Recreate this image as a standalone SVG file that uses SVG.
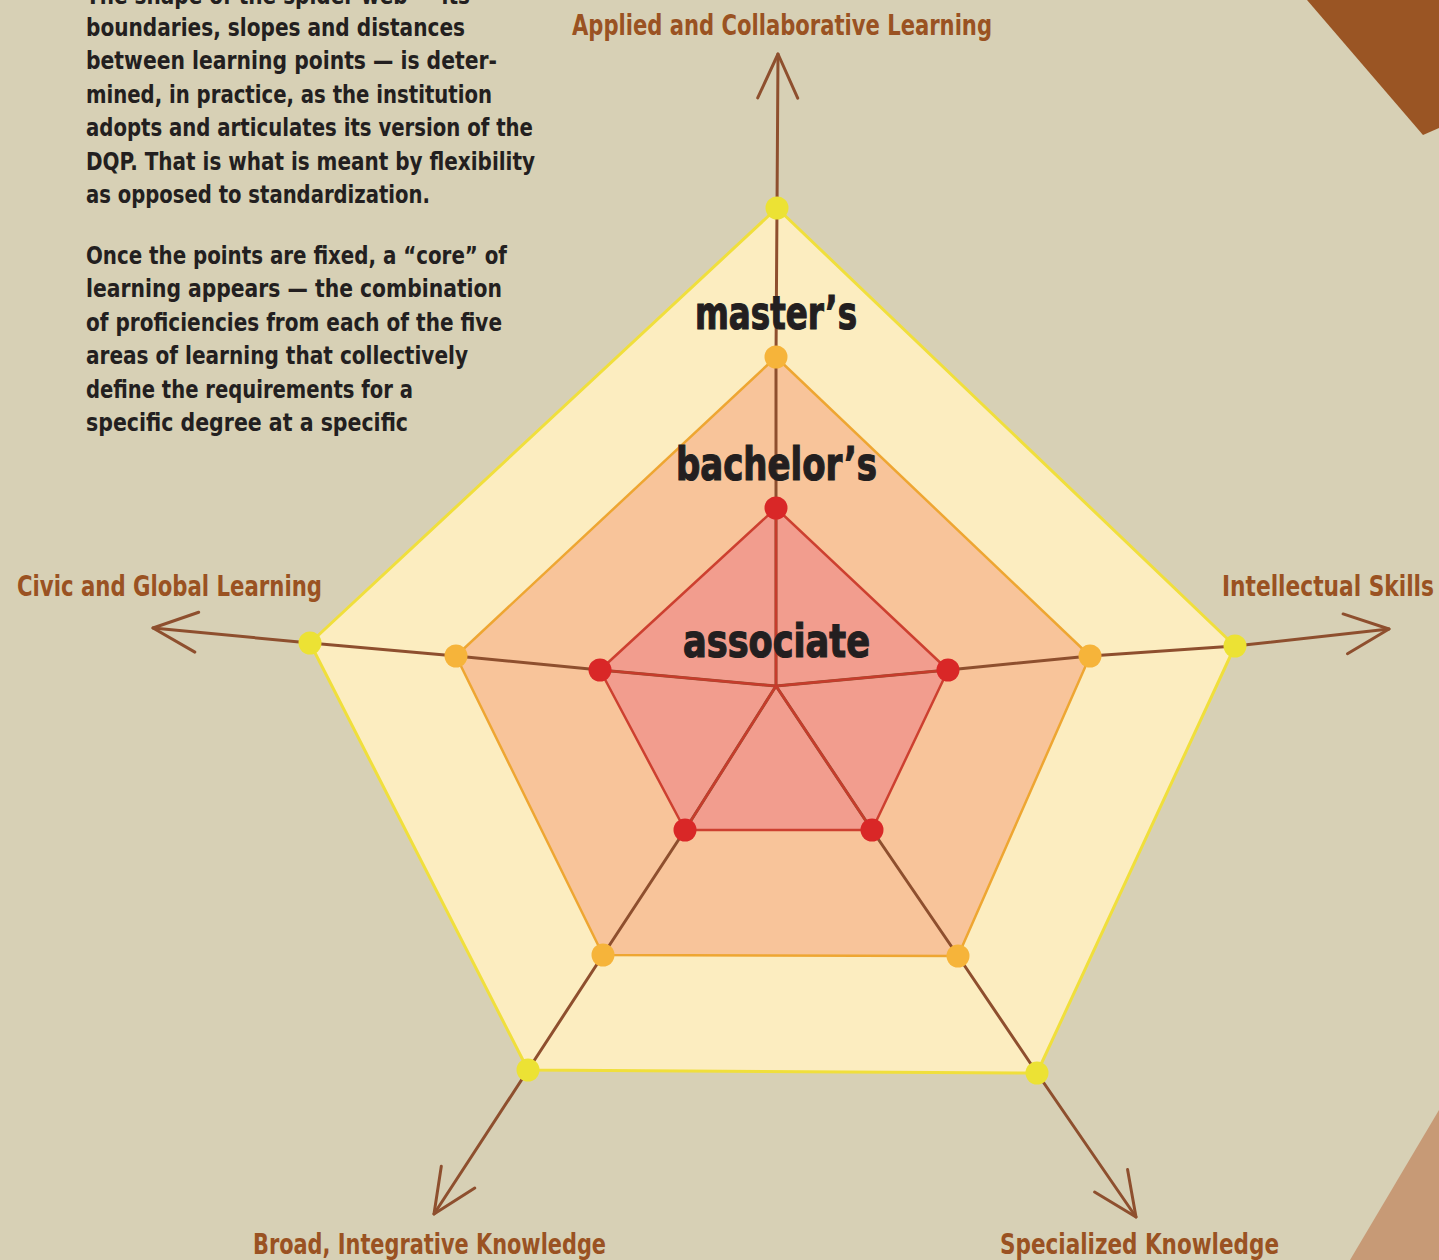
<svg xmlns="http://www.w3.org/2000/svg" width="1439" height="1260" viewBox="0 0 1439 1260">
<style>
.body{font-family:"Liberation Sans Narrow","DejaVu Sans Condensed","Liberation Sans",sans-serif;font-weight:bold;font-size:25px;fill:#231f20}
.axlab{font-family:"Liberation Sans Narrow","DejaVu Sans Condensed","Liberation Sans",sans-serif;font-weight:bold;font-size:28px;fill:#9a5222}
.lvl{font-family:"Liberation Sans Narrow","DejaVu Sans Condensed","Liberation Sans",sans-serif;font-weight:bold;font-size:46px;fill:#231f20;stroke:#231f20;stroke-width:1.2;text-anchor:start}
.axis{fill:none;stroke:#8e4f2e;stroke-width:3;stroke-linecap:round;stroke-linejoin:round}
.inner{fill:none;stroke:#c63c2c;stroke-width:2.5;stroke-linecap:round}
.ydot{fill:#ece234}
.odot{fill:#f6b43a}
.rdot{fill:#d92727}
</style>
<defs>
<marker id="arr" markerUnits="userSpaceOnUse" markerWidth="60" markerHeight="60" refX="0" refY="0" viewBox="-50 -30 60 60" orient="auto" overflow="visible">
<path d="M-44,-20 L0,0 L-44,20" fill="none" stroke="#8e4f2e" stroke-width="3" stroke-linecap="round" stroke-linejoin="round"/>
</marker>
</defs>
<rect width="1439" height="1260" fill="#d7d0b5"/>
<polygon points="1307,0 1423,135 1439,128 1439,0" fill="#9a5524"/>
<polygon points="1439,1110 1350,1260 1439,1260" fill="#c79a76"/>

<g id="text-block">
<text class="body" x="86" y="4" textLength="384" lengthAdjust="spacingAndGlyphs">The shape of the spider web — its</text>
<text class="body" x="86" y="36" textLength="379" lengthAdjust="spacingAndGlyphs">boundaries, slopes and distances</text>
<text class="body" x="86" y="69" textLength="411" lengthAdjust="spacingAndGlyphs">between learning points — is deter-</text>
<text class="body" x="86" y="103" textLength="406" lengthAdjust="spacingAndGlyphs">mined, in practice, as the institution</text>
<text class="body" x="86" y="136" textLength="447" lengthAdjust="spacingAndGlyphs">adopts and articulates its version of the</text>
<text class="body" x="86" y="170" textLength="449" lengthAdjust="spacingAndGlyphs">DQP. That is what is meant by flexibility</text>
<text class="body" x="86" y="203" textLength="344" lengthAdjust="spacingAndGlyphs">as opposed to standardization.</text>
<text class="body" x="86" y="264" textLength="421" lengthAdjust="spacingAndGlyphs">Once the points are fixed, a “core” of</text>
<text class="body" x="86" y="297" textLength="416" lengthAdjust="spacingAndGlyphs">learning appears — the combination</text>
<text class="body" x="86" y="331" textLength="416" lengthAdjust="spacingAndGlyphs">of proficiencies from each of the five</text>
<text class="body" x="86" y="364" textLength="382" lengthAdjust="spacingAndGlyphs">areas of learning that collectively</text>
<text class="body" x="86" y="398" textLength="327" lengthAdjust="spacingAndGlyphs">define the requirements for a</text>
<text class="body" x="86" y="431" textLength="322" lengthAdjust="spacingAndGlyphs">specific degree at a specific</text>
</g>

<g id="level-masters">
<polygon points="777,208 1235,646 1037,1073 528,1070 310,643" fill="#fcedc0" stroke="#f0df3c" stroke-width="3" stroke-linejoin="round"/>
</g>
<g id="level-bachelors">
<polygon points="776,357 1090,656 958,956 603,955 456,656" fill="#f8c49a" stroke="#eea632" stroke-width="2.5" stroke-linejoin="round"/>
</g>
<g id="level-associate">
<polygon points="776,508 948,670 872,830 685,830 600,670" fill="#f29d8e" stroke="#cd4030" stroke-width="2.5" stroke-linejoin="round"/>
</g>

<g id="connectors">
<polyline class="axis" points="776,686 776,508 776,357 777,208 778,54" marker-end="url(#arr)"/>
<polyline class="axis" points="776,686 948,670 1090,656 1235,646 1389,629" marker-end="url(#arr)"/>
<polyline class="axis" points="776,686 600,670 456,656 310,643 153,628" marker-end="url(#arr)"/>
<polyline class="axis" points="776,686 685,830 603,955 528,1070 434,1214" marker-end="url(#arr)"/>
<polyline class="axis" points="776,686 872,830 958,956 1037,1073 1136,1217" marker-end="url(#arr)"/>
<line class="inner" x1="776" y1="686" x2="776" y2="508"/>
<line class="inner" x1="776" y1="686" x2="948" y2="670"/>
<line class="inner" x1="776" y1="686" x2="600" y2="670"/>
<line class="inner" x1="776" y1="686" x2="685" y2="830"/>
<line class="inner" x1="776" y1="686" x2="872" y2="830"/>
</g>

<g id="points">
<circle class="ydot" cx="777" cy="208" r="11.5"/>
<circle class="ydot" cx="1235" cy="646" r="11.5"/>
<circle class="ydot" cx="1037" cy="1073" r="11.5"/>
<circle class="ydot" cx="528" cy="1070" r="11.5"/>
<circle class="ydot" cx="310" cy="643" r="11.5"/>
<circle class="odot" cx="776" cy="357" r="11.5"/>
<circle class="odot" cx="1090" cy="656" r="11.5"/>
<circle class="odot" cx="958" cy="956" r="11.5"/>
<circle class="odot" cx="603" cy="955" r="11.5"/>
<circle class="odot" cx="456" cy="656" r="11.5"/>
<circle class="rdot" cx="776" cy="508" r="11.5"/>
<circle class="rdot" cx="948" cy="670" r="11.5"/>
<circle class="rdot" cx="872" cy="830" r="11.5"/>
<circle class="rdot" cx="685" cy="830" r="11.5"/>
<circle class="rdot" cx="600" cy="670" r="11.5"/>
</g>

<g id="level-labels">
<text class="lvl" x="695" y="329" textLength="162" lengthAdjust="spacingAndGlyphs">master’s</text>
<text class="lvl" x="676" y="480" textLength="201" lengthAdjust="spacingAndGlyphs">bachelor’s</text>
<text class="lvl" x="683" y="657" textLength="187" lengthAdjust="spacingAndGlyphs">associate</text>
</g>

<g id="axis-labels">
<text class="axlab" x="572" y="35" textLength="420" lengthAdjust="spacingAndGlyphs">Applied and Collaborative Learning</text>
<text class="axlab" x="1222" y="596" textLength="212" lengthAdjust="spacingAndGlyphs">Intellectual Skills</text>
<text class="axlab" x="17" y="596" textLength="305" lengthAdjust="spacingAndGlyphs">Civic and Global Learning</text>
<text class="axlab" x="253" y="1254" textLength="353" lengthAdjust="spacingAndGlyphs">Broad, Integrative Knowledge</text>
<text class="axlab" x="1000" y="1254" textLength="279" lengthAdjust="spacingAndGlyphs">Specialized Knowledge</text>
</g>
</svg>
